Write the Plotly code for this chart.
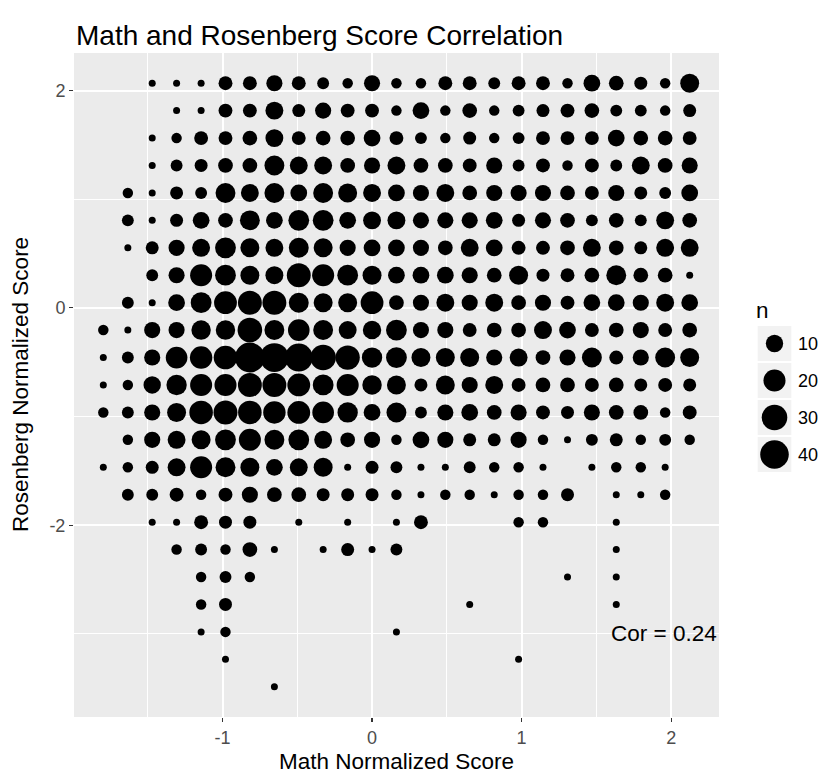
import numpy as np
import plotly.graph_objects as go

# Grid levels (normalized scores)
math_levels = [-1.797, -1.633, -1.470, -1.307, -1.143, -0.980, -0.817, -0.653, -0.490,
               -0.327, -0.163, 0.000, 0.163, 0.327, 0.490, 0.653, 0.817, 0.980, 1.143,
               1.307, 1.470, 1.633, 1.797, 1.960, 2.124]
rosenberg_levels = [2.068, 1.816, 1.563, 1.311, 1.058, 0.806, 0.553, 0.301, 0.048,
                    -0.204, -0.457, -0.709, -0.962, -1.214, -1.467, -1.719, -1.972,
                    -2.224, -2.477, -2.729, -2.982, -3.234, -3.487]

# counts n per (rosenberg row, math column); 0 = no observation
counts = [
    [0,0,1,1,1,5,5,8,5,3,2,8,2,2,5,5,3,5,5,2,9,6,4,2,13],
    [0,0,0,1,1,5,5,11,4,8,5,5,2,9,2,6,2,3,4,5,6,3,3,2,4],
    [0,0,1,2,5,5,6,11,5,6,6,9,5,3,2,4,2,3,5,5,5,9,6,6,5],
    [0,0,1,3,4,6,6,15,11,11,6,8,11,6,6,5,8,3,5,2,5,3,11,6,8],
    [0,2,1,4,3,15,11,15,9,15,13,11,9,8,11,6,8,8,8,6,5,8,4,3,9],
    [0,3,1,4,9,6,15,9,17,17,9,11,11,8,8,8,9,4,8,6,3,6,3,11,6],
    [0,1,4,8,11,17,13,11,15,13,8,9,9,8,6,11,9,5,5,6,11,6,4,11,11],
    [0,0,3,8,20,17,13,11,25,20,17,13,9,9,9,8,6,13,4,5,6,15,6,6,1],
    [0,3,1,9,17,22,25,25,15,13,13,22,6,8,11,8,11,6,8,5,9,9,8,11,9],
    [2,1,8,8,14,14,27,15,19,15,11,12,17,8,8,5,6,6,11,9,5,6,8,5,6],
    [1,3,8,19,21,24,45,41,38,30,26,16,17,13,13,13,8,11,6,8,15,5,8,15,13],
    [1,2,10,16,20,20,25,25,22,17,20,14,13,4,13,8,11,5,6,6,5,6,4,5,4],
    [2,3,8,13,24,25,24,21,22,19,16,9,15,3,8,9,6,8,5,4,8,6,6,2,5],
    [0,2,8,11,13,17,20,15,17,11,6,8,2,9,8,4,4,8,2,1,3,4,2,3,2],
    [1,2,4,11,20,15,13,9,11,13,1,4,3,1,1,3,2,2,1,0,1,2,2,1,0],
    [0,3,3,5,2,5,8,6,6,4,4,4,2,1,2,2,1,2,2,4,0,1,1,2,0],
    [0,0,1,1,5,4,4,0,1,0,1,0,1,5,0,0,0,2,2,0,0,1,0,0,0],
    [0,0,0,2,3,2,6,1,0,1,4,1,3,0,0,0,0,0,0,0,0,1,0,0,0],
    [0,0,0,0,2,3,2,0,0,0,0,0,0,0,0,0,0,0,0,1,0,1,0,0,0],
    [0,0,0,0,2,4,0,0,0,0,0,0,0,0,0,1,0,0,0,0,0,1,0,0,0],
    [0,0,0,0,1,2,0,0,0,0,0,0,1,0,0,0,0,0,0,0,0,0,0,0,0],
    [0,0,0,0,0,1,0,0,0,0,0,0,0,0,0,0,0,1,0,0,0,0,0,0,0],
    [0,0,0,0,0,0,0,1,0,0,0,0,0,0,0,0,0,0,0,0,0,0,0,0,0],
]

legend_n = [10, 20, 30, 40]
x_ticks = [-1, 0, 1, 2]
y_ticks = [-2, 0, 2]
cor_text = "Cor = 0.24"
title_text = "Math and Rosenberg Score Correlation"
x_title = "Math Normalized Score"
y_title = "Rosenberg Normalized Score"

FONT = "Liberation Sans, Arial, Helvetica, sans-serif"


def diam(n):
    n = np.asarray(n, dtype=float)
    return 7 + 3.45 * np.sqrt(n - 1)


xs, ys, ns = [], [], []
for r, row in enumerate(counts):
    for c, n in enumerate(row):
        if n > 0:
            xs.append(math_levels[c])
            ys.append(rosenberg_levels[r])
            ns.append(n)

W, H = 818, 773
ML, MR, MT, MB = 74, 8, 53, 56
plot_w = W - ML - MR
plot_h = H - MT - MB
panel_right = 719


def px_x(p):
    return (p - ML) / plot_w


def px_y(p):
    return (H - MB - p) / plot_h


fig = go.Figure()
fig.add_trace(go.Scatter(
    x=xs, y=ys, mode="markers",
    marker=dict(size=diam(ns), color="black", opacity=1, line=dict(width=0)),
    hoverinfo="skip", showlegend=False, xaxis="x", yaxis="y"))

# legend keys on their own small axes
k = len(legend_n)
fig.add_trace(go.Scatter(
    x=[0.5] * k, y=[k - i - 0.5 for i in range(k)], mode="markers",
    marker=dict(size=diam(legend_n), color="black", opacity=1, line=dict(width=0)),
    hoverinfo="skip", showlegend=False, xaxis="x2", yaxis="y2", cliponaxis=False))

shapes = [dict(type="rect", xref="x domain", yref="y domain", x0=0, x1=1, y0=0, y1=1,
               fillcolor="#EBEBEB", line=dict(width=0), layer="below")]
for i in range(k):
    shapes.append(dict(type="rect", xref="x2", yref="y2", x0=0.02, x1=0.98,
                       y0=i + 0.03, y1=i + 0.97, fillcolor="#F2F2F2",
                       line=dict(width=0), layer="below"))

key_top, key_h = 325, 37
annotations = [
    dict(text=title_text, xref="paper", yref="paper", x=0, y=px_y(35),
         xanchor="left", yanchor="middle", showarrow=False,
         font=dict(family=FONT, size=28, color="black")),
    dict(text=x_title, xref="paper", yref="paper", x=px_x((ML + panel_right) / 2),
         y=px_y(761), xanchor="center", yanchor="middle", showarrow=False,
         font=dict(family=FONT, size=22.5, color="black")),
    dict(text=y_title, xref="paper", yref="paper", x=px_x(20), y=px_y(385),
         xanchor="center", yanchor="middle", textangle=-90, showarrow=False,
         font=dict(family=FONT, size=22.5, color="black")),
    dict(text=cor_text, xref="x", yref="y", x=1.95, y=-3.0,
         xanchor="center", yanchor="middle", showarrow=False,
         font=dict(family=FONT, size=22.5, color="black")),
    dict(text="n", xref="paper", yref="paper", x=px_x(754), y=px_y(310),
         xanchor="left", yanchor="middle", showarrow=False,
         font=dict(family=FONT, size=22.5, color="black")),
]
for i, n in enumerate(legend_n):
    annotations.append(dict(text=str(n), xref="paper", yref="paper", x=px_x(796),
                            y=px_y(key_top + key_h * (i + 0.5)),
                            xanchor="left", yanchor="middle", showarrow=False,
                            font=dict(family=FONT, size=18, color="black")))

fig.update_layout(
    width=W, height=H,
    margin=dict(l=ML, r=MR, t=MT, b=MB),
    paper_bgcolor="white", plot_bgcolor="white",
    font=dict(family=FONT, color="#4D4D4D"),
    shapes=shapes, annotations=annotations,
    xaxis=dict(domain=[0, px_x(panel_right)], range=[-1.993, 2.320],
               tickvals=x_ticks, ticktext=[str(v) for v in x_ticks],
               showgrid=True, gridcolor="white", gridwidth=2,
               minor=dict(tickvals=[-1.5, -0.5, 0.5, 1.5], showgrid=True,
                          gridcolor="white", gridwidth=1, ticks=""),
               ticks="outside", ticklen=4, tickwidth=1.1, tickcolor="#333333",
               tickfont=dict(family=FONT, size=18, color="#4D4D4D"),
               zeroline=False, showline=False, automargin=False, fixedrange=True),
    yaxis=dict(domain=[0, 1], range=[-3.765, 2.346],
               tickvals=y_ticks, ticktext=[str(v) for v in y_ticks],
               showgrid=True, gridcolor="white", gridwidth=2,
               minor=dict(tickvals=[-3, -1, 1], showgrid=True,
                          gridcolor="white", gridwidth=1, ticks=""),
               ticks="outside", ticklen=4, tickwidth=1.1, tickcolor="#333333",
               tickfont=dict(family=FONT, size=18, color="#4D4D4D"),
               zeroline=False, showline=False, automargin=False, fixedrange=True),
    xaxis2=dict(domain=[px_x(757), px_x(792)], range=[0, 1], visible=False,
                anchor="y2", fixedrange=True),
    yaxis2=dict(domain=[px_y(key_top + key_h * k), px_y(key_top)], range=[0, k],
                visible=False, anchor="x2", fixedrange=True),
)

fig.write_html("out.html", config={"displayModeBar": False, "staticPlot": True},
               post_script="document.body.style.margin='0';")
